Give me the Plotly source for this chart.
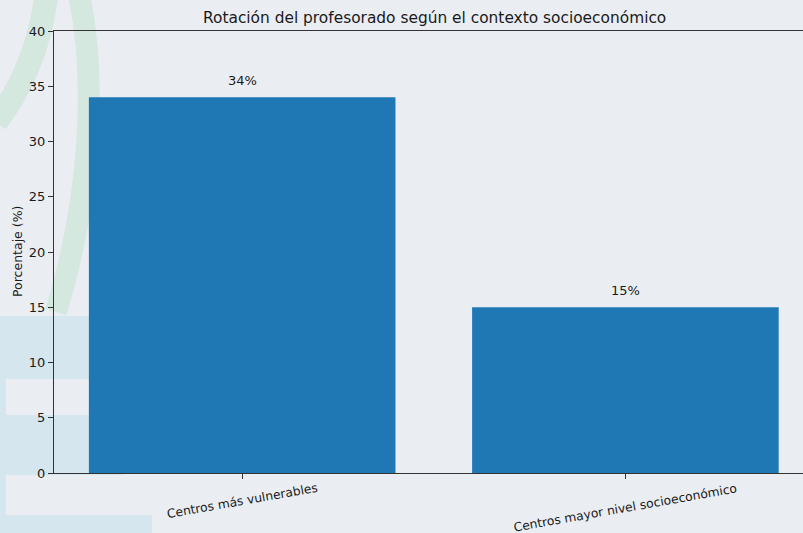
import plotly.graph_objects as go

categories = ["Centros más vulnerables", "Centros mayor nivel socioeconómico"]
values = [34, 15]
value_labels = ["34%", "15%"]
y_ticks = [0, 5, 10, 15, 20, 25, 30, 35, 40]

W, H = 803, 533
ML, MR, MT, MB = 54, 0, 31, 60
PW = W - ML - MR
PH = H - MT - MB

def px(x):
    return (x - ML) / PW

def py(y):
    return (H - MB - y) / PH

BG = "#eaeef3"
TXT = "#1a1a1a"

fig = go.Figure()
fig.add_trace(go.Bar(
    x=[0, 1], y=values, width=0.8,
    marker=dict(color="#1f77b4", line=dict(width=0)),
    hoverinfo="skip",
))

shapes = []
# watermark: light blue blocks
blue = "#d5e6ee"
for (x0, y0, x1, y1) in [(0, 316, 145, 379), (0, 379, 6, 415), (0, 415, 124, 475),
                         (0, 475, 6, 515), (0, 515, 152, 540)]:
    shapes.append(dict(type="rect", xref="paper", yref="paper",
                       x0=px(x0), x1=px(x1), y0=py(y1), y1=py(y0),
                       fillcolor=blue, line=dict(width=0), layer="below"))
# watermark: green arcs
green = "#d4e8df"
def path(pts):
    (a, b), (c, d), (e, f), (g, h) = pts
    return (f"M {px(a)},{py(b)} C {px(c)},{py(d)} {px(e)},{py(f)} {px(g)},{py(h)}")
shapes.append(dict(type="path", xref="paper", yref="paper",
                   path=path([(47, -10), (42, 35), (28, 80), (-4, 122)]),
                   line=dict(color=green, width=24), layer="below"))
shapes.append(dict(type="path", xref="paper", yref="paper",
                   path=path([(78, -10), (98, 80), (90, 200), (56, 312)]),
                   line=dict(color=green, width=22), layer="below"))

annotations = [
    dict(text="Rotación del profesorado según el contexto socioeconómico",
         xref="paper", yref="paper", x=px(434), y=py(18), showarrow=False,
         font=dict(size=15.4, color=TXT), xanchor="center", yanchor="middle"),
    dict(text="Porcentaje (%)", xref="paper", yref="paper", x=px(17), y=0.5,
         textangle=-90, showarrow=False, font=dict(size=12.5, color=TXT),
         xanchor="center", yanchor="middle"),
]
for i, (v, lab) in enumerate(zip(values, value_labels)):
    annotations.append(dict(text=lab, x=i, y=v, xref="x", yref="y", showarrow=False,
                            yanchor="bottom", yshift=7, font=dict(size=13, color=TXT)))
for i, c in enumerate(categories):
    annotations.append(dict(text=c, x=i, xref="x", yref="paper", y=py(479),
                            textangle=-10, showarrow=False, xanchor="center", yanchor="top",
                            font=dict(size=12.3, color=TXT)))

fig.update_layout(
    width=W, height=H,
    margin=dict(l=ML, r=MR, t=MT, b=MB, pad=0),
    paper_bgcolor=BG, plot_bgcolor="rgba(0,0,0,0)",
    showlegend=False, bargap=0.2,
    shapes=shapes, annotations=annotations,
    font=dict(family="DejaVu Sans", color=TXT),
    xaxis=dict(range=[-0.491, 1.4634], tickvals=[0, 1], showticklabels=False,
               ticks="outside", ticklen=5, tickcolor="#333", showgrid=False, zeroline=False,
               showline=True, linecolor="#333", linewidth=1.2, mirror=True),
    yaxis=dict(range=[0, 40], tickvals=y_ticks, ticks="outside", ticklen=5, tickcolor="#333",
               showgrid=False, zeroline=False, showline=True, linecolor="#333", linewidth=1.2,
               tickfont=dict(size=13, color=TXT)),
)

fig.write_html("out.html", config={"displayModeBar": False},
               post_script="document.body.style.margin='0';document.body.style.background='%s';" % BG)
